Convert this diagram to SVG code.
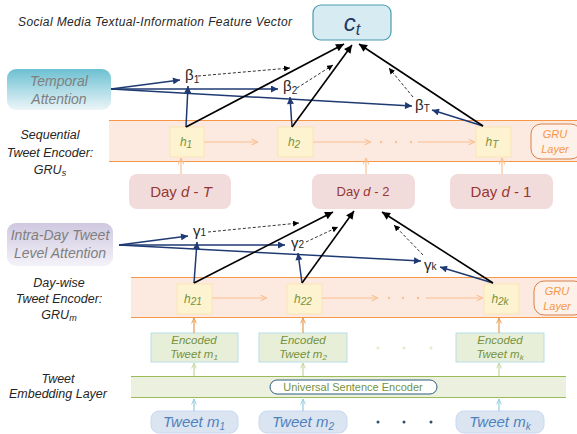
<svg xmlns="http://www.w3.org/2000/svg" width="577" height="434" viewBox="0 0 577 434">
<style>
text{font-family:"Liberation Sans",Arial,sans-serif}
.lbl{font-size:12.5px;font-style:italic;fill:#262626;text-anchor:middle}
.att{font-size:14px;font-style:italic;fill:#7f7f7f;text-anchor:middle}
.navy{stroke:#1f3a73;stroke-width:1.5;fill:none;marker-end:url(#mNavy)}
.blk{stroke:#000;stroke-width:1.6;fill:none;marker-end:url(#mBlk)}
.dash{stroke:#000;stroke-width:0.8;stroke-dasharray:3 2;fill:none;marker-end:url(#mDash)}
.lo{stroke:#fac090;stroke-width:1.2;fill:none;marker-end:url(#mLO)}
.org{stroke:#e59a4f;stroke-width:1.2;fill:none;marker-end:url(#mOrg)}
.grn{stroke:#c3d69b;stroke-width:1.2;fill:none;marker-end:url(#mGrn)}
.blu{stroke:#92cddc;stroke-width:1.2;fill:none;marker-end:url(#mBlu)}
.hbox{fill:#fdf3d0;stroke:#fbe5b6;stroke-width:1}
.htxt{font-size:12px;font-style:italic;fill:#76923c;text-anchor:middle}
.day{fill:#f2dcdb}
.daytxt{fill:#953735;text-anchor:middle}
.enc{fill:#e8efd9;stroke:#b7dde8;stroke-width:1}
.enctxt{font-size:11.5px;font-style:italic;fill:#76923c;text-anchor:middle}
.tw{fill:#dbe5f1;stroke:#c6d9f1;stroke-width:1}
.twtxt{font-size:15px;font-style:italic;fill:#4f81bd;text-anchor:middle}
.gru{fill:#fdf1ea;stroke:#d9804a;stroke-width:1}
.grutxt{font-size:11px;font-style:italic;fill:#f79646;text-anchor:middle}
.gk{font-size:15px;fill:#262626}
.sub{font-size:10px}
</style>
<defs>
<marker id="mNavy" viewBox="0 0 10 10" refX="10" refY="5" markerWidth="8" markerHeight="7" markerUnits="userSpaceOnUse" orient="auto"><path d="M0,0 L10,5 L0,10 z" fill="#1f3a73"/></marker>
<marker id="mBlk" viewBox="0 0 10 10" refX="10" refY="5" markerWidth="9" markerHeight="8" markerUnits="userSpaceOnUse" orient="auto"><path d="M0,0 L10,5 L0,10 z" fill="#000"/></marker>
<marker id="mDash" viewBox="0 0 10 10" refX="10" refY="5" markerWidth="6" markerHeight="6" markerUnits="userSpaceOnUse" orient="auto"><path d="M0,0 L10,5 L0,10 z" fill="#000"/></marker>
<marker id="mLO" viewBox="0 0 10 10" refX="10" refY="5" markerWidth="7" markerHeight="8" markerUnits="userSpaceOnUse" orient="auto"><path d="M1,1 L10,5 L1,9" fill="none" stroke="#fac090" stroke-width="1.5"/></marker>
<marker id="mOrg" viewBox="0 0 10 10" refX="10" refY="5" markerWidth="6" markerHeight="7" markerUnits="userSpaceOnUse" orient="auto"><path d="M1,1 L10,5 L1,9" fill="none" stroke="#e59a4f" stroke-width="1.5"/></marker>
<marker id="mGrn" viewBox="0 0 10 10" refX="10" refY="5" markerWidth="6" markerHeight="7" markerUnits="userSpaceOnUse" orient="auto"><path d="M1,1 L10,5 L1,9" fill="none" stroke="#c3d69b" stroke-width="1.5"/></marker>
<marker id="mBlu" viewBox="0 0 10 10" refX="10" refY="5" markerWidth="6" markerHeight="7" markerUnits="userSpaceOnUse" orient="auto"><path d="M1,1 L10,5 L1,9" fill="none" stroke="#92cddc" stroke-width="1.5"/></marker>
<linearGradient id="gTemp" x1="0" y1="0" x2="0" y2="1"><stop offset="0" stop-color="#6cc0d2"/><stop offset="1" stop-color="#edf6f9"/></linearGradient>
<linearGradient id="gIntra" x1="0" y1="0" x2="0" y2="1"><stop offset="0" stop-color="#cfc8e0"/><stop offset="1" stop-color="#f4f2f8"/></linearGradient>
</defs>

<rect width="577" height="434" fill="#fff"/>

<g id="title"><text x="155" y="26" font-size="12" font-style="italic" fill="#262626" text-anchor="middle" textLength="274">Social Media Textual-Information Feature Vector</text></g>

<g id="ct"><rect x="313" y="5" width="78" height="35" rx="8" fill="#d7ebf3" stroke="#4a9cae" stroke-width="1.2"/><text x="352" y="31" font-size="24" font-style="italic" fill="#1f3864" text-anchor="middle">c<tspan font-size="16" dy="4">t</tspan></text></g>

<g id="temporal-attention"><rect x="7" y="69" width="104" height="41" rx="9" fill="url(#gTemp)"/><text class="att" x="59" y="86">Temporal</text><text class="att" x="59" y="104">Attention</text></g>

<g id="seq-label"><text class="lbl" x="50" y="139">Sequential</text><text class="lbl" x="50" y="157">Tweet Encoder:</text><text class="lbl" x="50" y="174">GRU<tspan font-size="9" dy="2">s</tspan></text></g>

<g id="seq-band"><rect x="109" y="120" width="468" height="42" fill="#fce9df"/><line x1="109" y1="120.5" x2="577" y2="120.5" stroke="#f79646" stroke-width="1.2"/><line x1="109" y1="161.5" x2="577" y2="161.5" stroke="#f79646" stroke-width="1.2"/></g>

<g id="h1"><rect class="hbox" x="170" y="127" width="34" height="30"/><text class="htxt" x="186" y="146">h<tspan class="sub" dy="2">1</tspan></text></g>
<g id="h2"><rect class="hbox" x="278" y="127" width="35" height="30"/><text class="htxt" x="294" y="146">h<tspan class="sub" dy="2">2</tspan></text></g>
<g id="hT"><rect class="hbox" x="476" y="127" width="35" height="30"/><text class="htxt" x="492" y="146">h<tspan class="sub" dy="2">T</tspan></text></g>
<g id="gru1"><rect class="gru" x="531" y="124" width="50" height="35" rx="10"/><text class="grutxt" x="555" y="138">GRU</text><text class="grutxt" x="555" y="153">Layer</text></g>

<g id="day-T"><rect class="day" x="129" y="174" width="102" height="35" rx="8"/><text class="daytxt" x="181" y="197" font-size="15">Day <tspan font-style="italic">d</tspan> - <tspan font-style="italic">T</tspan></text></g>
<g id="day-2"><rect class="day" x="312" y="174" width="103" height="35" rx="8"/><text class="daytxt" x="363" y="196" font-size="13">Day <tspan font-style="italic">d</tspan> - 2</text></g>
<g id="day-1"><rect class="day" x="450" y="174" width="103" height="35" rx="8"/><text class="daytxt" x="501" y="197" font-size="15">Day <tspan font-style="italic">d</tspan> - 1</text></g>

<g id="intra-attention"><rect x="7" y="223" width="106" height="43" rx="9" fill="url(#gIntra)"/><text class="att" x="60" y="240" font-size="13">Intra-Day Tweet</text><text class="att" x="60" y="258" font-size="13">Level Attention</text></g>

<g id="day-label"><text class="lbl" x="59" y="287">Day-wise</text><text class="lbl" x="59" y="303">Tweet Encoder:</text><text class="lbl" x="59" y="319">GRU<tspan font-size="9" dy="2">m</tspan></text></g>

<g id="day-band"><rect x="131" y="277" width="446" height="41" fill="#fce9df"/><line x1="131" y1="277.5" x2="577" y2="277.5" stroke="#f79646" stroke-width="1.2"/><line x1="131" y1="317.5" x2="577" y2="317.5" stroke="#f79646" stroke-width="1.2"/></g>

<g id="h21"><rect class="hbox" x="177" y="284" width="35" height="30"/><text class="htxt" x="193" y="303">h<tspan class="sub" dy="2">21</tspan></text></g>
<g id="h22"><rect class="hbox" x="287" y="284" width="35" height="30"/><text class="htxt" x="303" y="303">h<tspan class="sub" dy="2">22</tspan></text></g>
<g id="h2k"><rect class="hbox" x="484" y="284" width="35" height="30"/><text class="htxt" x="500" y="303">h<tspan class="sub" dy="2">2k</tspan></text></g>
<g id="gru2"><rect class="gru" x="534" y="281" width="50" height="34" rx="10"/><text class="grutxt" x="557" y="295">GRU</text><text class="grutxt" x="557" y="310">Layer</text></g>

<g id="enc1"><rect class="enc" x="151" y="333" width="87" height="29"/><text class="enctxt" x="194" y="344">Encoded</text><text class="enctxt" x="194" y="358">Tweet m<tspan font-size="8" dy="2">1</tspan></text></g>
<g id="enc2"><rect class="enc" x="259" y="333" width="88" height="29"/><text class="enctxt" x="303" y="344">Encoded</text><text class="enctxt" x="303" y="358">Tweet m<tspan font-size="8" dy="2">2</tspan></text></g>
<g id="enck"><rect class="enc" x="456" y="333" width="88" height="29"/><text class="enctxt" x="500" y="344">Encoded</text><text class="enctxt" x="500" y="358">Tweet m<tspan font-size="8" dy="2">k</tspan></text></g>
<g id="enc-dots" fill="#e6ecc8"><circle cx="378" cy="348" r="1.5"/><circle cx="404" cy="348" r="1.5"/><circle cx="431" cy="348" r="1.5"/></g>

<g id="emb-label"><text class="lbl" x="58" y="383">Tweet</text><text class="lbl" x="58" y="398">Embedding Layer</text></g>

<g id="emb-band"><rect x="131" y="376" width="435" height="22" fill="#ebf1de"/><line x1="131" y1="376.5" x2="566" y2="376.5" stroke="#9bbb59" stroke-width="1"/><line x1="131" y1="397.5" x2="566" y2="397.5" stroke="#9bbb59" stroke-width="1"/></g>
<g id="use"><rect x="270" y="380" width="167" height="14" rx="7" fill="#fff" stroke="#2c5f7c" stroke-width="1"/><text x="353" y="391" font-size="11" fill="#76923c" text-anchor="middle">Universal Sentence Encoder</text></g>

<g id="tw1"><rect class="tw" x="151" y="411" width="87" height="22" rx="8"/><text class="twtxt" x="194" y="427">Tweet m<tspan font-size="10" dy="3">1</tspan></text></g>
<g id="tw2"><rect class="tw" x="259" y="411" width="88" height="22" rx="8"/><text class="twtxt" x="303" y="427">Tweet m<tspan font-size="10" dy="3">2</tspan></text></g>
<g id="twk"><rect class="tw" x="456" y="411" width="88" height="22" rx="8"/><text class="twtxt" x="500" y="427">Tweet m<tspan font-size="10" dy="3">k</tspan></text></g>
<g id="tw-dots" fill="#2f4f6f"><circle cx="378" cy="422" r="1.5"/><circle cx="404" cy="422" r="1.5"/><circle cx="431" cy="422" r="1.5"/></g>

<g id="weights">
<text class="gk" x="185" y="80">β<tspan class="sub" dy="3">1</tspan></text>
<text class="gk" x="283" y="91">β<tspan class="sub" dy="3">2</tspan></text>
<text class="gk" x="415" y="110">β<tspan class="sub" font-size="9" dy="2">T</tspan></text>
<text class="gk" x="193" y="236">γ<tspan class="sub" dy="0">1</tspan></text>
<text class="gk" x="291" y="248">γ<tspan class="sub" dy="0">2</tspan></text>
<text class="gk" x="424" y="270">γ<tspan class="sub" font-size="9" dy="0">k</tspan></text>
</g>

<g id="connectors">
<line class="lo" x1="204" y1="142" x2="258" y2="142"/>
<line class="lo" x1="313" y1="142" x2="371" y2="142"/>
<line class="lo" x1="418" y1="142" x2="475" y2="142"/>
<g fill="#fac090"><circle cx="381" cy="142" r="1.2"/><circle cx="396" cy="142" r="1.2"/><circle cx="411" cy="142" r="1.2"/></g>
<line class="lo" x1="181" y1="174" x2="181" y2="158"/>
<line class="lo" x1="366" y1="174" x2="366" y2="158"/>
<line class="lo" x1="502" y1="174" x2="502" y2="158"/>

<line class="lo" x1="212" y1="298" x2="267" y2="298"/>
<line class="lo" x1="322" y1="298" x2="378" y2="298"/>
<line class="lo" x1="426" y1="298" x2="483" y2="298"/>
<g fill="#fac090"><circle cx="389" cy="298" r="1.2"/><circle cx="403" cy="298" r="1.2"/><circle cx="418" cy="298" r="1.2"/></g>

<line class="org" x1="194" y1="333" x2="194" y2="318"/>
<line class="org" x1="303" y1="333" x2="303" y2="318"/>
<line class="org" x1="499" y1="333" x2="499" y2="318"/>
<line class="grn" x1="194" y1="376" x2="194" y2="363"/>
<line class="grn" x1="303" y1="376" x2="303" y2="363"/>
<line class="grn" x1="499" y1="376" x2="499" y2="363"/>
<line class="blu" x1="194" y1="411" x2="194" y2="399"/>
<line class="blu" x1="303" y1="411" x2="303" y2="399"/>
<line class="blu" x1="499" y1="411" x2="499" y2="399"/>

<line class="navy" x1="111" y1="89" x2="180" y2="80"/>
<line class="navy" x1="111" y1="89" x2="278" y2="89"/>
<line class="navy" x1="111" y1="89" x2="412" y2="106"/>
<line class="navy" x1="186" y1="127" x2="188" y2="86"/>
<line class="navy" x1="292" y1="127" x2="290" y2="97"/>
<line class="navy" x1="483" y1="126" x2="432" y2="110"/>
<line class="blk" x1="186" y1="127" x2="344" y2="44"/>
<line class="blk" x1="292" y1="127" x2="352" y2="45"/>
<line class="blk" x1="483" y1="126" x2="359" y2="44"/>
<line class="dash" x1="198" y1="76" x2="290" y2="68"/>
<line class="dash" x1="297" y1="88" x2="333" y2="65"/>
<line class="dash" x1="413" y1="97" x2="389" y2="68"/>

<line class="navy" x1="119" y1="245" x2="188" y2="236"/>
<line class="navy" x1="119" y1="245" x2="285" y2="245"/>
<line class="navy" x1="119" y1="245" x2="421" y2="261"/>
<line class="navy" x1="194" y1="283" x2="197" y2="242"/>
<line class="navy" x1="302" y1="283" x2="298" y2="253"/>
<line class="navy" x1="493" y1="283" x2="440" y2="267"/>
<line class="blk" x1="194" y1="283" x2="333" y2="212"/>
<line class="blk" x1="302" y1="283" x2="354" y2="211"/>
<line class="blk" x1="493" y1="283" x2="382" y2="212"/>
<line class="dash" x1="208" y1="232" x2="299" y2="223"/>
<line class="dash" x1="306" y1="242" x2="338" y2="227"/>
<line class="dash" x1="423" y1="255" x2="394" y2="225"/>
</g>
</svg>
